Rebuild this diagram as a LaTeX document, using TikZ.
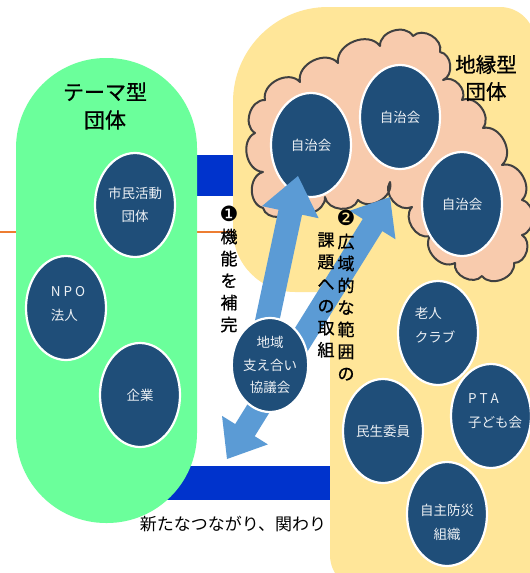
\documentclass[tikz,border=0pt]{standalone}
\usepackage{fontspec}
\setmainfont{Noto Sans CJK JP}
\newfontfamily\boldjp[FakeBold=0.8]{Noto Sans CJK JP}
\newfontfamily\dingfont{DejaVu Sans}
\usetikzlibrary{shapes.geometric,calc}
\definecolor{grn}{RGB}{107,255,155}
\definecolor{ylw}{RGB}{255,230,153}
\definecolor{cld}{RGB}{248,203,173}
\definecolor{cldline}{RGB}{64,64,64}
\definecolor{navy}{RGB}{31,78,121}
\definecolor{bandc}{RGB}{0,51,204}
\definecolor{arrc}{RGB}{91,155,213}
\definecolor{orgline}{RGB}{237,125,49}
\definecolor{txtw}{RGB}{236,240,244}
\tikzset{
  orgnode/.style={ellipse, fill=navy, draw=white, line width=2.2pt,
    minimum width=80pt, minimum height=104pt, inner sep=0pt,
    text=txtw, font=\fontsize{13.5}{23}\selectfont, align=center},
  otext/.style={text=txtw, font=\fontsize{13.5}{24}\selectfont, inner sep=0pt},
  vtext/.style={font=\boldjp\fontsize{17}{22}\selectfont, align=center, inner sep=0pt, text=black},
  titletext/.style={font=\boldjp\fontsize{21}{28}\selectfont, align=center, inner sep=0pt, text=black},
  cloudline/.style={fill=cld, draw=cldline, line width=2pt, line join=round},
  bump/.style={bend left=75, looseness=1.1},
}
\newcommand{\dingnum}[1]{{\dingfont\fontsize{21}{22}\selectfont #1}}
\begin{document}
\begin{tikzpicture}[x=1pt,y=-1pt]
\useasboundingbox (0,0) rectangle (530,573);
\fill[white] (0,0) rectangle (530,573);

% orange line
\coordinate (oL) at (0,232);
\coordinate (oR) at (260,232);
\draw[orgline, line width=1.6pt] (oL) -- (oR);

% blue bands
\fill[bandc] (120,155) rectangle (300,196);
\fill[bandc] (120,466) rectangle (340,500);

% green theme group
\fill[grn, rounded corners=90pt] (16,58) rectangle (197,523);

% yellow area group
\fill[ylw, rounded corners=35pt] (330,7) rectangle (535,590);
\fill[ylw, rounded corners=95pt] (233,7) rectangle (450,250);
\fill[ylw, rounded corners=62pt] (233,100) rectangle (400,292);

% cloud
\draw[cloudline] (263,172) to[bump] (255,133) to[bump] (265,100) to[bump] (300,82)
  to[bump] (338,63) to[bump] (380,46) to[bump] (413,36) to[bump] (440,52)
  to[bump] (443,80) to[bump] (462,100) to[bump] (483,128) to[bump] (502,165)
  to[bump] (522,200) to[bump] (522,235) to[bump] (514,263) to[bump] (482,276)
  to[bump] (455,263) to[bump] (430,236) to[bump] (412,207) to[bump] (390,182)
  to[bump] (358,200) to[bump] (325,197) to[bump] (292,208) to[bump] (263,208)
  to[bump] (263,172) -- cycle;

% titles
\node[titletext] (theme) at (105,106) {テーマ型\\団体};
\node[titletext, font=\boldjp\fontsize{20.5}{27}\selectfont] (chien) at (486,78) {地縁型\\団体};

% jichikai circles
\node[orgnode] (jc1) at (311,145) {自治会};
\node[orgnode] (jc2) at (400,117) {自治会};
\node[orgnode] (jc3) at (462,204) {自治会};

% arrows
\coordinate (a1t) at (262,345);
\coordinate (a1h) at (298,176);
\coordinate (a1n) at ($(a1h)!37pt!(a1t)$);
\fill[arrc] ($(a1t)!12pt!90:(a1h)$) -- ($(a1n)!12pt!-90:(a1t)$) -- ($(a1n)!29pt!-90:(a1t)$)
  -- (a1h) -- ($(a1n)!29pt!90:(a1t)$) -- ($(a1n)!12pt!90:(a1t)$) -- ($(a1t)!12pt!-90:(a1h)$) -- cycle;

\coordinate (a2p) at (390,197);
\coordinate (a2q) at (227,459);
\coordinate (nP) at ($(a2p)!33pt!(a2q)$);
\coordinate (nQ) at ($(a2q)!34pt!(a2p)$);
\fill[arrc] (a2p) -- ($(nP)!27pt!90:(a2q)$) -- ($(nP)!11.5pt!90:(a2q)$)
  -- ($(nQ)!11.5pt!-90:(a2p)$) -- ($(nQ)!27pt!-90:(a2p)$) -- (a2q)
  -- ($(nQ)!27pt!90:(a2p)$) -- ($(nQ)!11.5pt!90:(a2p)$)
  -- ($(nP)!11.5pt!-90:(a2q)$) -- ($(nP)!27pt!-90:(a2q)$) -- cycle;

% other organisations
\node[orgnode] (shimin) at (135,205) {市民活動\\団体};
\node[orgnode] (npo) at (66,308) {};
\node[otext, align=left] (npoT) at (68,304) {N P O\\法人};
\node[orgnode] (kigyo) at (140,395) {企業};
\node[orgnode, minimum width=74pt, minimum height=94pt, font=\fontsize{13.5}{22.5}\selectfont] (chiiki) at (270,365) {地域\\支え合い\\協議会};
\node[orgnode] (rojin) at (438,333) {};
\node[otext, align=left] (rojinT) at (435,325) {老人\\クラブ};
\node[orgnode] (pta) at (491,416) {};
\node[otext, align=left] (ptaT) at (495,411) {P T A\\子ども会};
\node[orgnode] (minsei) at (383,431) {民生委員};
\node[orgnode] (bosai) at (447,514) {};
\node[otext, align=center] (bosaiT) at (447,522) {自主防災\\組織};

% vertical texts
\node[vtext] (v1) at (229,269) {\dingnum{❶}\\機\\能\\を\\補\\完};
\node[vtext] (v2) at (346,295.5) {\dingnum{❷}\\広\\域\\的\\な\\範\\囲\\の};
\node[vtext] (v3) at (326,295) {課\\題\\へ\\の\\取\\組};

% bottom caption
\node[font=\fontsize{17}{20}\selectfont, inner sep=0pt] (caption) at (233,524) {新たなつながり、関わり};
\end{tikzpicture}
\end{document}
